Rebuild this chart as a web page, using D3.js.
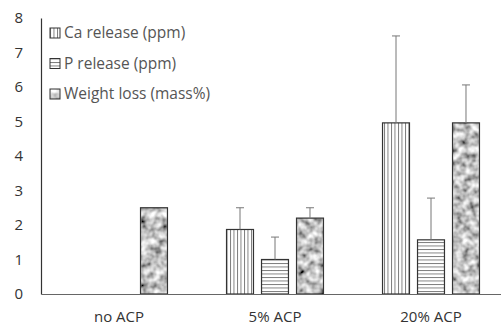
<!DOCTYPE html>
<html>
<head>
<meta charset="utf-8">
<script src="https://cdn.jsdelivr.net/npm/d3@7"></script>
<style>
  body { margin: 0; background: #fff; }
  svg { display: block; }
  text { font-family: "Open Sans", sans-serif; }
</style>
</head>
<body>
<div id="chart-area"></div>
<script>
// data
var categories = ["no ACP", "5% ACP", "20% ACP"];
var seriesNames = ["Ca release (ppm)", "P release (ppm)", "Weight loss (mass%)"];
var caRelease = [null, 1.87, 4.96];
var caError = [null, 0.63, 2.52];
var pRelease = [null, 1.0, 1.57];
var pError = [null, 0.65, 1.21];
var weightLoss = [2.5, 2.2, 4.96];
var weightError = [null, 0.3, 1.1];
var yTicks = [0, 1, 2, 3, 4, 5, 6, 7, 8];

var values = [caRelease, pRelease, weightLoss];
var errors = [caError, pError, weightError];
var fills = ["url(#vlines)", "url(#hlines)", "#999"];

var W = 501, H = 328;
var margin = { left: 41, right: -8, top: 18, bottom: 34 };
var width = W - margin.left - margin.right;
var height = H - margin.top - margin.bottom;

var svg = d3.select("#chart-area").append("svg")
  .attr("width", W)
  .attr("height", H);

var defs = svg.append("defs");

// vertical hatch
var pv = defs.append("pattern")
  .attr("id", "vlines")
  .attr("patternUnits", "userSpaceOnUse")
  .attr("width", 3.5).attr("height", 4);
pv.append("rect").attr("width", 3.5).attr("height", 4).attr("fill", "#fff");
pv.append("line").attr("x1", 0.5).attr("x2", 0.5).attr("y1", 0).attr("y2", 4)
  .attr("stroke", "#555").attr("stroke-width", 0.8);

// horizontal hatch
var ph = defs.append("pattern")
  .attr("id", "hlines")
  .attr("patternUnits", "userSpaceOnUse")
  .attr("width", 4).attr("height", 3.5);
ph.append("rect").attr("width", 4).attr("height", 3.5).attr("fill", "#fff");
ph.append("line").attr("y1", 0.5).attr("y2", 0.5).attr("x1", 0).attr("x2", 4)
  .attr("stroke", "#555").attr("stroke-width", 0.8);

// granite texture
var f = defs.append("filter").attr("id", "granite")
  .attr("x", 0).attr("y", 0).attr("width", 1).attr("height", 1);
f.append("feTurbulence")
  .attr("type", "fractalNoise")
  .attr("baseFrequency", 0.14)
  .attr("numOctaves", 2)
  .attr("seed", 5)
  .attr("result", "noise");
f.append("feColorMatrix")
  .attr("in", "noise")
  .attr("type", "matrix")
  .attr("values", "1.5 0 0 0 -0.2  1.5 0 0 0 -0.2  1.5 0 0 0 -0.2  0 0 0 0 1")
  .attr("result", "gray");
f.append("feGaussianBlur")
  .attr("in", "gray").attr("stdDeviation", 0.5).attr("result", "soft");
f.append("feComposite")
  .attr("in", "soft").attr("in2", "SourceGraphic").attr("operator", "in");

var g = svg.append("g")
  .attr("transform", "translate(" + margin.left + "," + margin.top + ")");

var x0 = d3.scaleBand()
  .domain(categories)
  .range([0, width])
  .paddingInner(0.327)
  .paddingOuter(0.1635);

var x1 = d3.scaleBand()
  .domain(d3.range(seriesNames.length))
  .range([0, x0.bandwidth()])
  .paddingInner(0.23)
  .paddingOuter(0.115);

var y = d3.scaleLinear()
  .domain([0, 8])
  .range([height, 0]);

// Y axis
var yAxisCall = d3.axisLeft(y)
  .tickValues(yTicks)
  .tickSize(0)
  .tickPadding(18);
var yAxis = g.append("g").attr("class", "y axis").call(yAxisCall);
yAxis.select(".domain").attr("stroke", "#333").attr("stroke-width", 1.2);
yAxis.selectAll("text")
  .attr("font-size", "15px")
  .attr("fill", "#333")
  .attr("font-family", "Open Sans, sans-serif");

// bars
categories.forEach(function(c, ci) {
  values.forEach(function(series, si) {
    var v = series[ci];
    if (v == null) return;
    var bx = x0(c) + x1(si);
    var bw = x1.bandwidth();
    var rect = g.append("rect")
      .attr("x", bx)
      .attr("y", y(v))
      .attr("width", bw)
      .attr("height", height - y(v))
      .attr("fill", fills[si]);
    if (si === 2) rect.attr("filter", "url(#granite)");
    g.append("rect")
      .attr("x", bx)
      .attr("y", y(v))
      .attr("width", bw)
      .attr("height", height - y(v))
      .attr("fill", "none")
      .attr("stroke", "#333")
      .attr("stroke-width", 1.2);

    var e = errors[si][ci];
    if (e == null) return;
    var cx = bx + bw / 2;
    g.append("line")
      .attr("x1", cx).attr("x2", cx)
      .attr("y1", y(v)).attr("y2", y(v + e))
      .attr("stroke", "#777").attr("stroke-width", 1);
    g.append("line")
      .attr("x1", cx - 4).attr("x2", cx + 4)
      .attr("y1", y(v + e)).attr("y2", y(v + e))
      .attr("stroke", "#777").attr("stroke-width", 1);
  });
});

// X axis
var xAxisCall = d3.axisBottom(x0).tickSize(0).tickPadding(17);
var xAxis = g.append("g")
  .attr("class", "x axis")
  .attr("transform", "translate(0," + height + ")")
  .call(xAxisCall);
xAxis.select(".domain").attr("stroke", "#666").attr("stroke-width", 1.2);
xAxis.selectAll("text")
  .attr("font-size", "15px")
  .attr("fill", "#333")
  .attr("font-family", "Open Sans, sans-serif");

// legend
var legend = svg.append("g").attr("transform", "translate(50,28)");
seriesNames.forEach(function(name, i) {
  var lg = legend.append("g").attr("transform", "translate(0," + (i * 30.5) + ")");
  var sw = lg.append("rect")
    .attr("width", 10).attr("height", 10)
    .attr("fill", fills[i]);
  if (i === 2) sw.attr("filter", "url(#granite)");
  lg.append("rect")
    .attr("width", 10).attr("height", 10)
    .attr("fill", "none").attr("stroke", "#333").attr("stroke-width", 1);
  lg.append("text")
    .attr("x", 14).attr("y", 5)
    .attr("dy", "0.35em")
    .attr("font-size", "15.5px")
    .attr("fill", "#555")
    .text(name);
});
</script>
</body>
</html>
